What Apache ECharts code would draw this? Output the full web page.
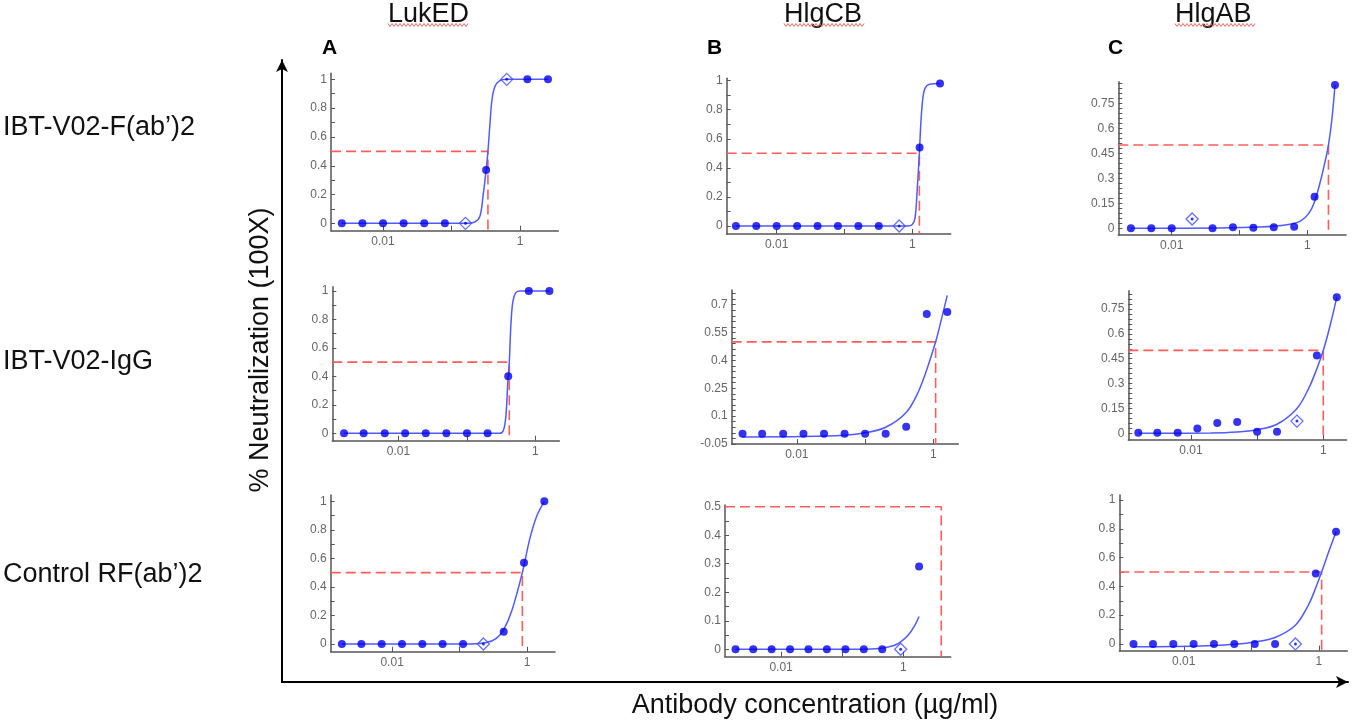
<!DOCTYPE html>
<html>
<head>
<meta charset="utf-8">
<title>Neutralization curves</title>
<script src="https://cdn.jsdelivr.net/npm/echarts@6.0.0/dist/echarts.min.js"></script>
<style>
  html, body { margin: 0; padding: 0; background: #fff; }
  #chart { width: 1358px; height: 724px; }
</style>
</head>
<body>
<div id="chart"></div>
<script>
// antibody concentrations (two-fold dilutions), one list per row
var concRow1 = [0.0025, 0.005, 0.01, 0.02, 0.04, 0.08, 0.16, 0.32, 0.64, 1.28, 2.56];
var concRow2 = [0.0016, 0.0031, 0.0063, 0.0125, 0.025, 0.05, 0.1, 0.2, 0.4, 0.8, 1.6];
var concRow3 = [0.0018, 0.0035, 0.007, 0.014, 0.028, 0.056, 0.1125, 0.225, 0.45, 0.9, 1.8];

// measured neutralization (fraction)
var valsA1 = [0, 0, 0, 0, 0, 0, 0, 0.37, 1, 1, 1];
var valsB1 = [0, 0, 0, 0, 0, 0, 0, 0, 0, 0.54, 0.98];
var valsC1 = [0, 0, 0, 0.056, 0, 0.006, 0.004, 0.006, 0.01, 0.19, 0.86];
var valsA2 = [0, 0, 0, 0, 0, 0, 0, 0, 0.4, 1, 1];
var valsB2 = [0.005, 0.005, 0.005, 0.005, 0.005, 0.005, 0.005, 0.005, 0.043, 0.65, 0.66];
var valsC2 = [0.004, 0.004, 0.004, 0.03, 0.062, 0.068, 0.01, 0.01, 0.074, 0.47, 0.82];
var valsA3 = [0, 0, 0, 0, 0, 0, 0, 0, 0.086, 0.57, 1];
var valsB3 = [0, 0, 0, 0, 0, 0, 0, 0, 0, 0, 0.29];
var valsC3 = [0, 0, 0, 0, 0, 0, 0, 0, 0, 0.49, 0.78];

// indices drawn as open diamonds (excluded points)
var diaA1 = [6, 8];
var diaB1 = [8];
var diaC1 = [3];
var diaA2 = [];
var diaB2 = [];
var diaC2 = [8];
var diaA3 = [7];
var diaB3 = [9];
var diaC3 = [8];

// fitted curves
var fitA1 = [[0.0025, 0], [0.16, 0], [0.22, 0.01], [0.26, 0.05], [0.29, 0.2], [0.32, 0.37], [0.34, 0.5], [0.365, 0.7], [0.39, 0.86], [0.43, 0.95], [0.5, 0.99], [0.64, 1], [2.56, 1]];
var fitB1 = [[0.0025, 0], [0.85, 0], [1.0, 0.01], [1.1, 0.06], [1.18, 0.25], [1.27, 0.5], [1.34, 0.72], [1.43, 0.88], [1.55, 0.95], [1.8, 0.975], [2.56, 0.98]];
var fitC1 = [[0.0025, 0], [0.05, 0.002], [0.2, 0.008], [0.5, 0.022], [0.8, 0.045], [1.05, 0.09], [1.28, 0.16], [1.6, 0.3], [1.85, 0.41], [2.05, 0.5], [2.3, 0.65], [2.56, 0.86]];
var fitA2 = [[0.0016, 0], [0.3, 0], [0.34, 0.02], [0.37, 0.12], [0.395, 0.36], [0.415, 0.5], [0.44, 0.78], [0.47, 0.93], [0.52, 0.99], [0.6, 1], [1.6, 1]];
var fitB2 = [[0.0016, -0.012], [0.0125, -0.01], [0.05, -0.003], [0.1, 0.01], [0.2, 0.04], [0.4, 0.12], [0.6, 0.23], [0.8, 0.35], [1.08, 0.5], [1.35, 0.64], [1.6, 0.75]];
var fitC2 = [[0.0016, 0], [0.02, 0.002], [0.05, 0.008], [0.1, 0.022], [0.2, 0.055], [0.4, 0.15], [0.6, 0.27], [0.8, 0.39], [1, 0.5], [1.25, 0.64], [1.6, 0.82]];
var fitA3 = [[0.0018, 0], [0.15, 0], [0.25, 0.01], [0.35, 0.04], [0.45, 0.1], [0.6, 0.24], [0.85, 0.5], [1.1, 0.74], [1.4, 0.9], [1.8, 1]];
var fitB3 = [[0.0018, 0], [0.2, 0], [0.45, 0.004], [0.7, 0.013], [0.9, 0.026], [1.2, 0.05], [1.5, 0.08], [1.8, 0.115]];
var fitC3 = [[0.0018, -0.02], [0.007, -0.018], [0.028, -0.01], [0.056, -0.002], [0.1125, 0.014], [0.225, 0.045], [0.45, 0.13], [0.7, 0.27], [0.9, 0.39], [1.1, 0.5], [1.4, 0.64], [1.8, 0.78]];

// EC50 (where the red dashed guide drops down)
var ec50 = [0.34, 1.27, 2.05, 0.415, 1.08, 1.0, 0.85, 4.15, 1.1];

// tick labels
var xLabels = [0.01, 1];
var xTicks = [0.01, 0.1, 1];
var yLabels01 = [0, 0.2, 0.4, 0.6, 0.8, 1];
var yLabels015 = [0, 0.15, 0.3, 0.45, 0.6, 0.75];
var yLabelsB2 = [-0.05, 0.1, 0.25, 0.4, 0.55, 0.7];
var yLabelsB3 = [0, 0.1, 0.2, 0.3, 0.4, 0.5];

var colHeads = ['LukED', 'HlgCB', 'HlgAB'];
var panelLetters = ['A', 'B', 'C'];
var rowLabels = ['IBT-V02-F(ab\u2019)2', 'IBT-V02-IgG', 'Control RF(ab\u2019)2'];

function steps(a, b, s) {
    var out = [];
    for (var v = a; v <= b + 1e-9; v += s) out.push(Math.round(v * 1000) / 1000);
    return out;
}

var FONT = '"Liberation Sans", Arial, sans-serif';

// plot boxes (px) and axis ranges
var panels = [
    {conc: concRow1, vals: valsA1, dia: diaA1, fit: fitA1, box: [331, 73.3, 227.3, 157.4], x: [0.00174, 3.62], y: [-0.051, 1.042], ticks: steps(0, 1, 0.1), labels: yLabels01},
    {conc: concRow1, vals: valsB1, dia: diaB1, fit: fitB1, box: [726.7, 78.3, 224, 155.7], x: [0.00183, 3.68], y: [-0.055, 1.016], ticks: steps(0, 1, 0.1), labels: yLabels01},
    {conc: concRow1, vals: valsC1, dia: diaC1, fit: fitC1, box: [1118.3, 81.7, 227.7, 153.3], x: [0.00163, 3.72], y: [-0.04, 0.88], ticks: steps(0, 0.87, 0.03), labels: yLabels015},
    {conc: concRow2, vals: valsA2, dia: diaA2, fit: fitA2, box: [332.3, 286.7, 227, 154], x: [0.00108, 2.23], y: [-0.052, 1.03], ticks: steps(0, 1, 0.1), labels: yLabels01},
    {conc: concRow2, vals: valsB2, dia: diaB2, fit: fitB2, box: [731.7, 290, 226.6, 154], x: [0.00111, 2.32], y: [-0.05, 0.779], ticks: steps(-0.05, 0.76, 0.03), labels: yLabelsB2},
    {conc: concRow2, vals: valsC2, dia: diaC2, fit: fitC2, box: [1128.3, 290.7, 218.4, 149.3], x: [0.00113, 2.26], y: [-0.04, 0.86], ticks: steps(0, 0.84, 0.03), labels: yLabels015},
    {conc: concRow3, vals: valsA3, dia: diaA3, fit: fitA3, box: [330.7, 495, 224.3, 156.7], x: [0.00123, 2.59], y: [-0.054, 1.044], ticks: steps(0, 1, 0.1), labels: yLabels01},
    {conc: concRow3, vals: valsB3, dia: diaB3, fit: fitB3, box: [725, 505, 225.7, 151.7], x: [0.00121, 5.92], y: [-0.026, 0.506], ticks: steps(0, 0.5, 0.05), labels: yLabelsB3},
    {conc: concRow3, vals: valsC3, dia: diaC3, fit: fitC3, box: [1119.3, 495, 228, 155.7], x: [0.00111, 2.64], y: [-0.047, 1.035], ticks: steps(0, 1, 0.1), labels: yLabels01}
];

var option = {
    animation: false,
    textStyle: {fontFamily: FONT},
    grid: [],
    xAxis: [],
    yAxis: [],
    series: [],
    graphic: []
};

panels.forEach(function (p, i) {
    option.grid.push({left: p.box[0], top: p.box[1], width: p.box[2], height: p.box[3]});
    option.xAxis.push({
        type: 'log', logBase: 10, gridIndex: i, min: p.x[0], max: p.x[1],
        axisLine: {onZero: false, lineStyle: {color: '#555', width: 1.5}},
        axisTick: {inside: true, length: 5, customValues: xTicks, lineStyle: {color: '#555'}},
        axisLabel: {customValues: xLabels, color: '#666', fontSize: 12, margin: 5,
            formatter: function (v) { return String(v); }},
        splitLine: {show: false}
    });
    option.yAxis.push({
        type: 'value', gridIndex: i, min: p.y[0], max: p.y[1],
        axisLine: {show: true, onZero: false, lineStyle: {color: '#555', width: 1.5}},
        axisTick: {show: true, inside: true, length: 4, customValues: p.ticks, lineStyle: {color: '#555'}},
        axisLabel: {customValues: p.labels, color: '#666', fontSize: 12, margin: 4},
        splitLine: {show: false}
    });

    var dots = [], dias = [];
    p.conc.forEach(function (c, k) {
        if (p.dia.indexOf(k) >= 0) dias.push([c, p.vals[k]]);
        else dots.push([c, p.vals[k]]);
    });

    option.series.push({
        type: 'line', xAxisIndex: i, yAxisIndex: i, data: [[p.x[0], 0.5], [ec50[i], 0.5], [ec50[i], p.y[0]]],
        showSymbol: false, z: 1,
        lineStyle: {color: '#ff5c5c', width: 1.6, type: [10, 5]}
    });
    option.series.push({
        type: 'line', xAxisIndex: i, yAxisIndex: i, data: p.fit,
        smooth: 0.35, showSymbol: false, z: 2,
        lineStyle: {color: '#4f5bff', width: 1.5}
    });
    option.series.push({
        type: 'scatter', xAxisIndex: i, yAxisIndex: i, data: dias,
        symbol: 'diamond', symbolSize: 12, z: 3,
        itemStyle: {color: 'rgba(255,255,255,0)', borderColor: '#3d4cff', borderWidth: 1.3}
    });
    option.series.push({
        type: 'scatter', xAxisIndex: i, yAxisIndex: i, data: dias,
        symbolSize: 3, z: 4, itemStyle: {color: '#0000ee'}
    });
    option.series.push({
        type: 'scatter', xAxisIndex: i, yAxisIndex: i, data: dots,
        symbolSize: 8, z: 4, itemStyle: {color: '#0000ee'}
    });
});

// big outer axes with arrows
option.grid.push({left: 282, top: 60, width: 1066, height: 628});
option.xAxis.push({
    type: 'value', gridIndex: 9, min: 0, max: 1,
    name: 'Antibody concentration (\u00b5g/ml)', nameLocation: 'middle', nameGap: 10,
    nameTextStyle: {fontSize: 27, color: '#111', fontFamily: FONT},
    axisLine: {onZero: false, symbol: ['none', 'arrow'], symbolSize: [9, 12], lineStyle: {color: '#000', width: 2}},
    axisTick: {show: false}, axisLabel: {show: false}, splitLine: {show: false}
});
option.yAxis.push({
    type: 'value', gridIndex: 9, min: 0, max: 1,
    axisLine: {show: true, onZero: false, symbol: ['none', 'arrow'], symbolSize: [9, 12], lineStyle: {color: '#000', width: 2}},
    axisTick: {show: false}, axisLabel: {show: false}, splitLine: {show: false}
});

function zigzag(x0, x1, y) {
    var pts = [];
    for (var x = x0, k = 0; x <= x1; x += 2, k++) pts.push([x, y + (k % 2 ? 1.5 : -1.5)]);
    return pts;
}

var headX = [388, 784, 1175];
var letterX = [322, 707, 1108];
var rowY = [128, 362, 575];

option.graphic.push({type: 'text', x: 261, y: 350, rotation: Math.PI / 2,
    style: {text: '% Neutralization (100X)', font: '27px ' + FONT, fill: '#111', align: 'center', verticalAlign: 'middle'}});

colHeads.forEach(function (h, j) {
    option.graphic.push({type: 'text', x: headX[j], y: 28,
        style: {text: h, font: '27px ' + FONT, fill: '#111', verticalAlign: 'bottom'}});
    option.graphic.push({type: 'polyline', shape: {points: zigzag(headX[j], headX[j] + 80, 25)},
        style: {stroke: '#e06a6a', lineWidth: 1, fill: null}});
    option.graphic.push({type: 'text', x: letterX[j], y: 38,
        style: {text: panelLetters[j], font: 'bold 21px ' + FONT, fill: '#000', verticalAlign: 'top'}});
});
rowLabels.forEach(function (r, j) {
    option.graphic.push({type: 'text', x: 3, y: rowY[j],
        style: {text: r, font: '27px ' + FONT, fill: '#111', verticalAlign: 'middle'}});
});

var myChart = echarts.init(document.getElementById('chart'));
myChart.setOption(option);
</script>
</body>
</html>
